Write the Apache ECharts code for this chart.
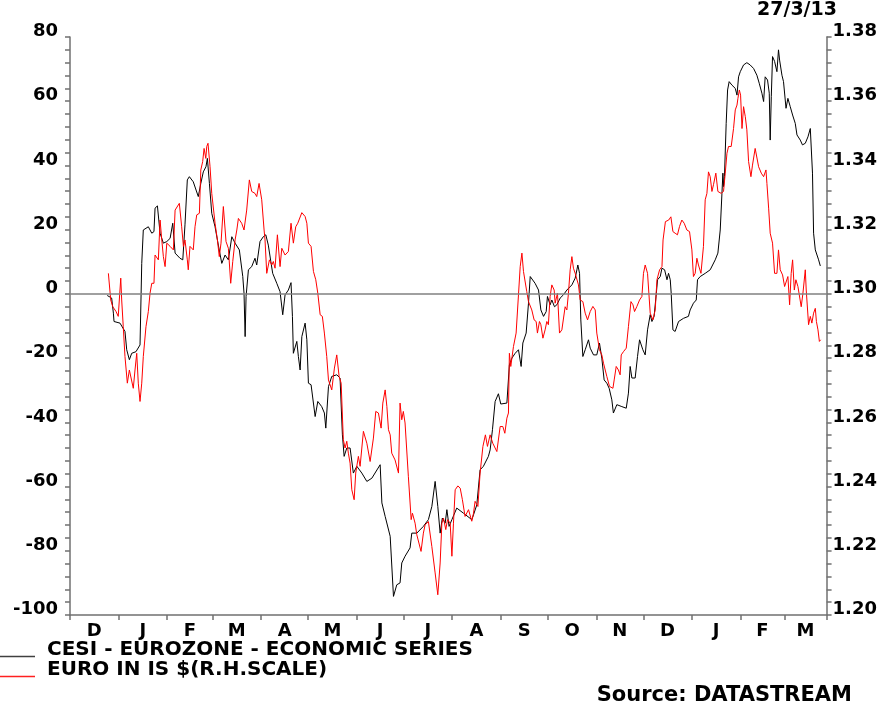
<!DOCTYPE html>
<html>
<head>
<meta charset="utf-8">
<script src="https://cdn.jsdelivr.net/npm/echarts@6/dist/echarts.min.js"></script>
<style>html,body{margin:0;padding:0;background:#fff}#c{width:880px;height:706px}</style>
</head>
<body>
<div id="c"></div>
<script>
// x values: days since 1 Dec 2011
const monthStarts = [0,31,62,91,122,152,183,213,244,275,305,336,366,397,428,456];
const monthLabels = ['D','J','F','M','A','M','J','J','A','S','O','N','D','J','F','M'];
const xMax = 483; // 28 Mar 2013
const dateLabel = '27/3/13';
const sourceLabel = 'Source: DATASTREAM';
const cesiName = 'CESI - EUROZONE - ECONOMIC SERIES';
const euroName = 'EURO IN IS $(R.H.SCALE)';

const cesiDays = [23.8,26.6,27.7,28.1,31.9,35.1,36.2,37.9,39.4,42.1,44.7,45.8,46.8,50.0,52.2,53.6,54.3,55.8,57.5,59.6,61.8,63.9,65.6,67.1,70.2,72.0,73.4,74.9,76.2,78.7,81.9,83.5,85.1,86.8,87.7,89.0,90.5,92.6,94.7,96.9,99.0,101.1,103.3,105.4,108.1,110.3,111.1,111.8,112.4,113.9,116.0,118.1,119.2,121.3,123.4,125.0,126.6,128.2,129.4,132.0,134.1,135.8,137.3,139.4,141.1,142.0,142.6,144.8,145.8,146.9,148.0,150.1,151.2,152.2,153.9,156.5,158.2,160.7,162.4,163.3,165.0,167.1,170.3,172.4,173.9,175.0,176.7,178.8,180.9,183.1,186.3,189.5,192.7,198.0,199.1,201.2,204.4,205.4,206.5,208.6,210.7,211.8,213.9,217.1,218.2,221.4,225.6,228.8,231.0,233.1,234.8,236.3,237.7,239.5,240.6,242.0,243.8,246.9,251.2,256.5,257.6,259.7,261.8,263.9,267.1,268.2,269.7,271.4,273.5,275.0,278.9,280.5,282.1,284.2,286.3,288.0,289.1,291.2,292.7,293.8,294.8,296.9,299.1,300.6,302.3,304.0,304.8,306.5,307.6,309.3,310.8,312.9,315.0,317.2,320.4,322.5,323.6,324.2,325.3,326.1,327.4,328.9,331.0,332.1,334.2,336.3,338.0,339.5,341.0,342.7,344.2,345.9,346.9,349.1,352.3,355.1,356.5,357.6,358.7,360.8,362.3,363.6,365.7,367.2,368.7,370.4,371.5,372.9,374.2,375.1,376.8,377.9,379.6,381.1,382.1,383.2,383.8,384.9,386.3,388.5,391.7,394.8,395.9,398.0,399.8,400.6,402.3,403.4,405.5,408.7,411.9,413.6,415.1,416.2,416.8,417.2,417.8,418.9,419.8,420.8,422.6,424.7,425.8,426.8,427.9,430.0,432.1,434.2,436.4,438.5,440.0,441.7,442.8,443.8,445.3,446.4,447.0,447.7,448.5,449.8,451.3,452.3,453.0,454.5,455.5,457.1,458.3,459.8,461.3,463.0,464.1,466.2,467.6,469.4,471.1,472.6,473.6,474.0,474.7,475.8,477.9,479.0];
const cesiValues = [-0.5,-1.3,-6,-8.6,-9.1,-11.7,-17.4,-20.5,-18.5,-18,-15.9,9.5,19.9,20.9,18.9,19.4,26.7,27.4,18.9,15.8,16.3,17.3,22,12.7,11.1,10.6,21.5,35.5,36.5,34.9,30.3,34.4,38,39.6,42.2,34.4,25.1,20.9,15.2,9.5,12.1,10.6,17.8,15.8,13.7,5.4,0.2,-13.3,-0.8,7.5,8.5,11.1,9,16.3,17.8,18.4,15.2,10.1,6.4,3.3,0.7,-6.5,-0.3,1.2,3.5,-7,-18.5,-14.8,-19.5,-23.7,-13.3,-9.1,-14.3,-27.8,-28.3,-38.2,-33.5,-35.1,-37.1,-41.8,-28.9,-25.7,-25.2,-26.2,-43.9,-50.6,-48,-48,-55.8,-53.7,-55.8,-58.4,-57.4,-53.2,-65.1,-69.3,-75.5,-76,-94.2,-90.6,-90,-83.8,-81.7,-79.1,-74.5,-74.5,-72.4,-70.3,-66.2,-58.4,-66.2,-74.5,-69.8,-71.4,-67.2,-72.4,-70.3,-66.7,-68.3,-70.3,-68.8,-65.7,-54.8,-53.7,-50.6,-48.6,-42.3,-33.5,-31.1,-34.3,-34,-22.1,-20,-18.5,-17.4,-22.6,-15.3,-12.2,-2.9,5.4,5.9,3.3,1.2,-5,-7,-5.5,-0.8,-3.4,-1.9,-4,-3.4,-1.3,-0.3,1.2,2.8,4.9,7.5,9,6.4,-8.1,-19.5,-17.4,-14.3,-16.9,-19,-19,-15.3,-20,-26.8,-27.8,-29.4,-33,-37.1,-34.5,-35.1,-35.6,-30.9,-22.6,-26.2,-26.2,-19.5,-14.3,-17.4,-19,-11.2,-6.5,-8.6,-7,-0.3,4.4,5.4,8,7.5,4.4,6.4,4.4,0.2,-11.2,-11.7,-8.6,-7.6,-7,-5,-2.9,-1.9,4.4,5.4,4.9,6.4,7.5,10.6,12.7,19.9,31.3,37.6,33.4,36.5,53.1,63.5,66.1,65,64,61.9,67.6,69.2,71.3,72,71.3,70.2,68.1,65.6,62.5,59.9,67.6,66.6,62.5,47.9,61.4,73.9,72.4,69.2,76,72.8,68.1,66.1,57.8,60.9,58.3,55.7,53.1,49.5,47.9,46.4,46.9,48.9,51.5,51.5,37.6,18.9,13.7,10.6,8.7];

const euroDays = [24.5,25.5,26.0,27.3,29.4,30.8,32.4,33.0,34.0,35.1,36.6,37.9,39.0,40.4,41.5,42.6,43.6,44.7,45.8,46.8,48.5,50.0,51.1,52.2,53.6,54.3,55.4,56.4,57.5,58.6,59.6,60.7,61.8,63.9,66.0,67.1,68.1,69.8,71.3,72.4,73.4,74.9,75.5,76.6,78.7,79.8,80.9,82.6,83.5,84.7,85.6,86.7,87.3,88.1,89.4,90.5,91.5,92.6,94.1,95.3,96.4,97.9,99.6,101.1,102.6,103.9,105.4,106.5,107.5,109.6,111.1,112.8,114.5,116.0,118.1,119.2,120.7,122.4,123.9,124.5,125.6,127.3,128.8,129.8,130.9,132.4,134.1,135.2,137.3,139.4,141.1,142.6,144.1,145.4,146.2,148.0,150.1,151.2,152.2,153.9,155.4,156.9,158.2,159.7,161.1,162.4,163.9,165.0,167.1,168.8,170.3,171.8,173.1,174.5,175.6,176.7,177.7,178.8,179.9,181.4,182.4,184.1,185.2,187.3,189.5,191.6,193.7,195.2,196.9,198.6,199.7,201.2,202.3,203.3,204.4,205.4,207.5,209.7,210.7,211.8,212.8,213.9,216.0,217.8,218.6,220.3,221.4,222.4,224.1,225.6,226.7,228.8,231.0,233.1,234.8,236.3,237.4,238.4,239.9,241.0,242.7,243.8,244.8,245.9,247.6,249.1,250.5,252.2,254.4,256.5,257.6,258.6,260.4,261.8,263.6,265.2,266.5,268.2,269.9,272.5,274.6,276.3,277.6,278.9,279.9,280.5,281.4,283.1,284.8,286.3,287.4,288.5,289.5,291.6,292.7,293.8,294.8,296.3,297.6,298.4,299.7,300.6,301.9,303.3,304.4,305.4,306.5,307.6,309.1,309.7,311.2,312.5,314.0,316.1,317.2,318.2,319.3,320.4,321.4,322.5,324.6,325.7,327.4,328.9,330.4,332.1,333.8,335.3,336.3,338.0,339.5,340.6,342.7,344.4,346.6,347.4,348.7,350.1,351.2,351.9,353.3,355.1,356.5,358.1,359.4,360.4,361.9,363.6,365.1,366.1,367.2,368.7,370.4,372.1,373.6,374.7,376.4,377.9,378.6,380.1,382.2,383.6,384.9,386.3,387.8,389.1,390.6,392.1,393.8,395.5,397.0,398.0,399.1,400.2,401.2,402.8,404.4,405.5,406.6,407.6,408.7,409.8,410.8,412.3,413.6,415.7,417.2,418.3,419.4,420.4,422.1,423.6,424.7,425.8,426.4,427.3,428.1,429.0,430.0,431.1,432.1,433.2,434.7,435.7,437.4,438.5,439.6,441.3,442.8,444.3,444.9,446.0,447.0,448.5,449.8,451.3,452.3,453.4,454.9,456.2,457.3,458.3,459.4,460.4,461.3,462.4,463.4,464.7,465.5,466.8,467.9,469.4,470.0,471.5,472.6,473.6,474.7,475.8,476.5,477.5,478.4,479.2];
const euroValues = [1.3064,1.3066,1.2981,1.2960,1.2945,1.2930,1.3049,1.2981,1.2898,1.2805,1.2722,1.2763,1.2769,1.2706,1.2763,1.2815,1.2722,1.2665,1.2722,1.2805,1.2898,1.2945,1.3002,1.3033,1.3033,1.3121,1.3116,1.3106,1.3230,1.3168,1.3116,1.3085,1.3158,1.3148,1.3137,1.3261,1.3256,1.3282,1.3209,1.3148,1.3168,1.3106,1.3075,1.3148,1.3137,1.3209,1.3246,1.3251,1.3386,1.3412,1.3453,1.3422,1.3459,1.3469,1.3396,1.3313,1.3308,1.3220,1.3168,1.3116,1.3158,1.3272,1.3163,1.3142,1.3033,1.3101,1.3168,1.3199,1.3235,1.3220,1.3199,1.3261,1.3355,1.3319,1.3313,1.3303,1.3344,1.3293,1.3199,1.3168,1.3064,1.3106,1.3090,1.3101,1.3080,1.3184,1.3085,1.3142,1.3121,1.3132,1.3220,1.3158,1.3209,1.3220,1.3215,1.3253,1.3241,1.3220,1.3158,1.3148,1.3070,1.3044,1.3002,1.2935,1.2930,1.2878,1.2805,1.2732,1.2701,1.2769,1.2810,1.2743,1.2722,1.2546,1.2520,1.2541,1.2504,1.2473,1.2390,1.2359,1.2442,1.2494,1.2463,1.2572,1.2535,1.2478,1.2551,1.2634,1.2629,1.2582,1.2660,1.2701,1.2649,1.2577,1.2561,1.2504,1.2483,1.2442,1.2660,1.2608,1.2634,1.2598,1.2432,1.2297,1.2317,1.2286,1.2250,1.2245,1.2198,1.2255,1.2281,1.2291,1.2213,1.2131,1.2063,1.2162,1.2286,1.2302,1.2266,1.2297,1.2286,1.2183,1.2286,1.2390,1.2402,1.2395,1.2359,1.2307,1.2328,1.2292,1.2317,1.2354,1.2338,1.2442,1.2525,1.2561,1.2525,1.2561,1.2535,1.2509,1.2587,1.2587,1.2566,1.2613,1.2629,1.2815,1.2774,1.2836,1.2878,1.2997,1.3085,1.3127,1.3070,1.3007,1.2976,1.2976,1.2950,1.2919,1.2914,1.2878,1.2914,1.2904,1.2862,1.2888,1.2914,1.2904,1.2992,1.3028,1.3012,1.2971,1.3002,1.2878,1.2888,1.2960,1.2950,1.3002,1.3075,1.3116,1.3080,1.3064,1.3028,1.2981,1.2976,1.2940,1.2919,1.2945,1.2961,1.2950,1.2878,1.2826,1.2810,1.2784,1.2743,1.2712,1.2706,1.2732,1.2774,1.2763,1.2748,1.2810,1.2820,1.2831,1.2898,1.2976,1.2966,1.2945,1.2961,1.2981,1.2992,1.3064,1.3090,1.3064,1.2940,1.2919,1.2950,1.3044,1.3075,1.3085,1.3168,1.3225,1.3230,1.3240,1.3194,1.3189,1.3184,1.3210,1.3230,1.3220,1.3199,1.3194,1.3137,1.3054,1.3064,1.3111,1.3090,1.3064,1.3148,1.3293,1.3313,1.3380,1.3365,1.3319,1.3340,1.3376,1.3319,1.3313,1.3319,1.3376,1.3438,1.3459,1.3459,1.3515,1.3573,1.3588,1.3609,1.3635,1.3619,1.3515,1.3583,1.3552,1.3511,1.3412,1.3365,1.3401,1.3453,1.3448,1.3396,1.3376,1.3365,1.3386,1.3344,1.3267,1.3189,1.3158,1.3064,1.3064,1.3137,1.3075,1.3059,1.3023,1.3028,1.3054,1.2966,1.3064,1.3106,1.3012,1.3044,1.3023,1.3028,1.2960,1.3002,1.3075,1.3012,1.2904,1.2930,1.2909,1.2940,1.2955,1.2914,1.2888,1.2852,1.2857];

const leftTicks = {min: -100, max: 80, interval: 20};
const rightTicks = {min: 1.20, max: 1.38, interval: 0.02};

const FONT = 'DejaVu Sans';
const monthMids = monthStarts.map((s, i) => (s + (i + 1 < monthStarts.length ? monthStarts[i + 1] : xMax)) / 2);

const chart = echarts.init(document.getElementById('c'), null, {renderer: 'canvas'});
const axisGrey = '#707070';
const lbl = {fontFamily: FONT, fontSize: 18, fontWeight: 'bold', color: '#000'};
const legendIcon = 'path://M0,0M0,13L35,13L35,14.5L0,14.5Z';
const legendText = {fontFamily: FONT, fontSize: 20, fontWeight: 'bold', color: '#000', padding: [0, 0, 0, 7]};

chart.setOption({
  animation: false,
  backgroundColor: '#fff',
  title: [
    {text: dateLabel, right: 43, top: 1, padding: 0, textStyle: {fontFamily: FONT, fontSize: 19, fontWeight: 'bold', color: '#000'}},
    {text: sourceLabel, right: 28, top: 685, padding: 0, textStyle: {fontFamily: FONT, fontSize: 21, fontWeight: 'bold', color: '#000'}}
  ],
  legend: [
    {data: [cesiName], left: 0, top: 640, padding: 0, orient: 'vertical', icon: legendIcon, itemWidth: 35, itemHeight: 14.5, selectedMode: false,
     itemStyle: {color: '#404040', borderWidth: 0}, lineStyle: {color: '#404040', width: 0},
     textStyle: legendText},
    {data: [euroName], left: 0, top: 660, padding: 0, orient: 'vertical', icon: legendIcon, itemWidth: 35, itemHeight: 14.5, selectedMode: false,
     itemStyle: {color: '#ff2020', borderWidth: 0}, lineStyle: {color: '#ff2020', width: 0},
     textStyle: legendText}
  ],
  grid: {left: 70, right: 53, top: 37, bottom: 91, containLabel: false},
  xAxis: {
    type: 'value', min: 0, max: xMax,
    axisLine: {show: true, onZero: false, lineStyle: {color: axisGrey, width: 1.5}},
    axisTick: {show: true, customValues: monthStarts.concat([xMax]), length: 5, lineStyle: {color: axisGrey, width: 1.5}},
    axisLabel: Object.assign({show: true, customValues: monthMids, margin: 7,
      formatter: (v) => { const i = monthMids.findIndex(m => Math.abs(m - v) < 0.01); return i >= 0 ? monthLabels[i] : ''; }}, lbl),
    splitLine: {show: false}
  },
  yAxis: [
    {type: 'value', position: 'left', min: leftTicks.min, max: leftTicks.max, interval: leftTicks.interval,
     axisLine: {show: true, lineStyle: {color: axisGrey, width: 1.5}},
     axisTick: {show: true, length: 5, lineStyle: {color: axisGrey, width: 1.5}},
     minorTick: {show: true, splitNumber: 5, length: 5, lineStyle: {color: axisGrey, width: 1.5}},
     axisLabel: Object.assign({margin: 12, verticalAlign: 'bottom', lineHeight: 11}, lbl),
     splitLine: {show: false}},
    {type: 'value', position: 'right', min: rightTicks.min, max: rightTicks.max, interval: rightTicks.interval,
     axisLine: {show: true, lineStyle: {color: axisGrey, width: 1.5}},
     axisTick: {show: true, length: 5, lineStyle: {color: axisGrey, width: 1.5}},
     minorTick: {show: true, splitNumber: 5, length: 5, lineStyle: {color: axisGrey, width: 1.5}},
     axisLabel: Object.assign({margin: 6, verticalAlign: 'bottom', lineHeight: 11, formatter: (v) => v.toFixed(2)}, lbl),
     splitLine: {show: false}}
  ],
  series: [
    {name: cesiName, type: 'line', yAxisIndex: 0, showSymbol: false, symbol: 'none',
     data: cesiDays.map((d, i) => [d, cesiValues[i]]),
     lineStyle: {color: '#000', width: 1}, itemStyle: {color: '#000'},
     markLine: {silent: true, symbol: 'none', label: {show: false}, lineStyle: {color: '#808080', width: 1.5, type: 'solid'}, data: [{yAxis: 0}]}},
    {name: euroName, type: 'line', yAxisIndex: 1, showSymbol: false, symbol: 'none',
     data: euroDays.map((d, i) => [d, euroValues[i]]),
     lineStyle: {color: '#ff0000', width: 1}, itemStyle: {color: '#ff0000'}}
  ]
});
</script>
</body>
</html>
